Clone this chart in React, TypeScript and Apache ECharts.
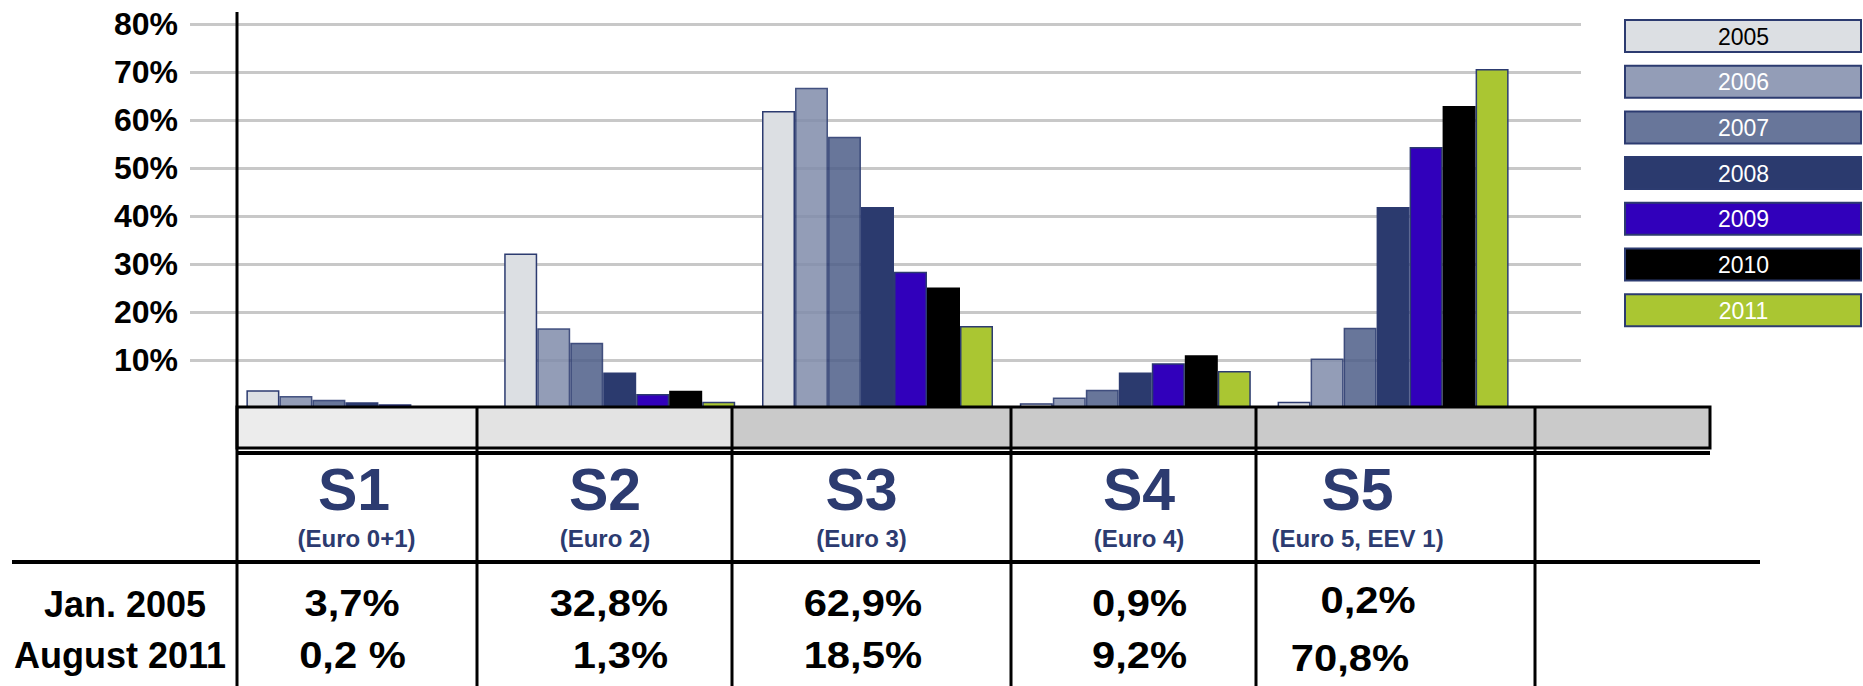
import React, { useEffect, useRef } from 'react';
import * as echarts from 'echarts';

// ---------- data ----------
const categories = ['S1', 'S2', 'S3', 'S4', 'S5'];
const categorySubtitles = ['(Euro 0+1)', '(Euro 2)', '(Euro 3)', '(Euro 4)', '(Euro 5, EEV 1)'];
const years = ['2005', '2006', '2007', '2008', '2009', '2010', '2011'];
const values2005 = [3.7, 32.2, 61.9, 1.0, 1.3];
const values2006 = [2.5, 16.6, 66.7, 2.2, 10.3];
const values2007 = [1.7, 13.6, 56.5, 3.8, 16.7];
const values2008 = [1.2, 7.4, 41.9, 7.4, 41.9];
const values2009 = [0.8, 2.9, 28.4, 9.3, 54.4];
const values2010 = [0.3, 3.6, 25.1, 11.0, 62.9];
const values2011 = [0.2, 1.3, 17.1, 7.7, 70.6];
const seriesValues = [values2005, values2006, values2007, values2008, values2009, values2010, values2011];
const yMin = 0;
const yMax = 80;
const yInterval = 10;
const rowLabels = ['Jan. 2005', 'August 2011'];
const jan2005Shares = ['3,7%', '32,8%', '62,9%', '0,9%', '0,2%'];
const aug2011Shares = ['0,2 %', '1,3%', '18,5%', '9,2%', '70,8%'];

// ---------- styles ----------
const FONT = "'Liberation Sans', Arial, Helvetica, sans-serif";
const NAVY = '#2c3b70';
const legendColors = ['#dcdfe3', '#939db7', '#68769a', '#2b3a6e', '#3100bb', '#000000', '#aac632'];
const barColors = ['#dcdfe3', '#808caa', '#4d5e88', '#2b3a6e', '#3100bb', '#000000', '#aac632'];
const barOpacity = [1, 0.85, 0.85, 1, 1, 1, 1];
const legendTextColors = ['#000000', '#ffffff', '#ffffff', '#ffffff', '#ffffff', '#ffffff', '#ffffff'];

// table layout (pixels)
const colEdges = [237, 477, 732, 1011, 1256, 1535];
const tableRight = 1710;
const headerCenters = [354, 605, 861.5, 1139, 1357.6];
const subCenters = [356.5, 605, 861.5, 1139, 1357.6];
const janPos: [number, string, number][] = [[352, 'center', 604], [668, 'right', 604], [922, 'right', 604], [1139.5, 'center', 604], [1368, 'center', 600.5]];
const augPos: [number, string, number][] = [[352.5, 'center', 656], [668, 'right', 656], [922, 'right', 656], [1139.5, 'center', 656], [1350, 'center', 659]];

function buildGraphic() {
  const g: any[] = [];
  const Z = 100;
  const line = (x1: number, y1: number, x2: number, y2: number, w: number, color = '#000') =>
    g.push({ type: 'line', z: Z, shape: { x1, y1, x2, y2 }, style: { stroke: color, lineWidth: w } });

  // grey header row
  const fills = ['#ececec', '#e3e3e3', '#cacaca'];
  g.push({ type: 'rect', z: Z - 1, shape: { x: colEdges[0], y: 407, width: colEdges[1] - colEdges[0], height: 41 }, style: { fill: fills[0] } });
  g.push({ type: 'rect', z: Z - 1, shape: { x: colEdges[1], y: 407, width: colEdges[2] - colEdges[1], height: 41 }, style: { fill: fills[1] } });
  g.push({ type: 'rect', z: Z - 1, shape: { x: colEdges[2], y: 408, width: tableRight - colEdges[2], height: 40 }, style: { fill: fills[2] } });
  g.push({ type: 'rect', z: Z, shape: { x: colEdges[0], y: 407, width: tableRight - colEdges[0], height: 41 }, style: { fill: 'none', stroke: '#000', lineWidth: 3 } });

  // lines
  line(colEdges[0], 12, colEdges[0], 686, 3);
  for (let i = 1; i < colEdges.length; i++) line(colEdges[i], 407, colEdges[i], 686, 3);
  line(colEdges[0], 453, tableRight, 453, 4);
  line(12, 562, 1760, 562, 4);

  // category headers
  categories.forEach((c, i) => {
    g.push({ type: 'text', z: Z, x: headerCenters[i], y: 489.5, style: { text: c, x: 0, y: 0, align: 'center', verticalAlign: 'middle', fontSize: 59, fontWeight: 'bold', fontFamily: FONT, fill: NAVY } });
    g.push({ type: 'text', z: Z, x: subCenters[i], y: 538.5, style: { text: categorySubtitles[i], x: 0, y: 0, align: 'center', verticalAlign: 'middle', fontSize: 24, fontWeight: 'bold', fontFamily: FONT, fill: NAVY } });
  });

  // row labels
  g.push({ type: 'text', z: Z, x: 125, y: 604, style: { text: rowLabels[0], x: 0, y: 0, align: 'center', verticalAlign: 'middle', fontSize: 36, fontWeight: 'bold', fontFamily: FONT, fill: '#000' } });
  g.push({ type: 'text', z: Z, x: 120, y: 655.5, style: { text: rowLabels[1], x: 0, y: 0, align: 'center', verticalAlign: 'middle', fontSize: 36, fontWeight: 'bold', fontFamily: FONT, fill: '#000' } });

  const pct = (text: string, p: [number, string, number]) =>
    g.push({ type: 'text', z: Z, x: p[0], y: p[2], scaleX: 1.16, style: { text, x: 0, y: 0, align: p[1], verticalAlign: 'middle', fontSize: 36, fontWeight: 'bold', fontFamily: FONT, fill: '#000' } });
  jan2005Shares.forEach((t, i) => pct(t, janPos[i]));
  aug2011Shares.forEach((t, i) => pct(t, augPos[i]));

  // legend boxes
  years.forEach((y, i) => {
    const top = 20 + i * 45.7;
    g.push({ type: 'rect', z: Z, shape: { x: 1625, y: top, width: 236, height: 32 }, style: { fill: legendColors[i], stroke: NAVY, lineWidth: 2 } });
    g.push({ type: 'text', z: Z + 1, x: 1743.5, y: top + 16.5, style: { text: y, x: 0, y: 0, align: 'center', verticalAlign: 'middle', fontSize: 23, fontFamily: FONT, fill: legendTextColors[i] } });
  });
  return g;
}

export default function App() {
  const ref = useRef<HTMLDivElement>(null);
  useEffect(() => {
    if (!ref.current) return;
    const chart = echarts.init(ref.current, null, { renderer: 'svg' });
    const option: any = {
      animation: false,
      backgroundColor: '#ffffff',
      grid: [
        { left: 190, right: 282, top: 24, bottom: 278 },
        { left: 233, right: 341, top: 24, bottom: 278 },
      ],
      xAxis: [
        { gridIndex: 0, type: 'category', data: categories, show: false },
        { gridIndex: 1, type: 'category', data: categories, show: false },
      ],
      yAxis: [
        {
          gridIndex: 0, type: 'value', min: yMin, max: yMax, interval: yInterval,
          axisLine: { show: false }, axisTick: { show: false },
          splitLine: { show: true, showMinLine: false, lineStyle: { color: '#c8c8c8', width: 3 } },
          axisLabel: {
            formatter: (v: number) => (v === 0 ? '' : v + '%'),
            fontSize: 32, fontWeight: 'bold', color: '#000', fontFamily: FONT, margin: 12,
          },
        },
        { gridIndex: 1, type: 'value', min: yMin, max: yMax, interval: yInterval, show: false, splitLine: { show: false } },
      ],
      series: years.map((y, i) => ({
        type: 'bar',
        name: y,
        xAxisIndex: 1,
        yAxisIndex: 1,
        data: seriesValues[i],
        barWidth: 33,
        barGap: '0%',
        itemStyle: { color: barColors[i], opacity: barOpacity[i], borderColor: i === 5 ? '#000' : NAVY, borderWidth: 1.5 },
      })),
      graphic: buildGraphic(),
    };
    chart.setOption(option);
    return () => chart.dispose();
  }, []);
  return <div ref={ref} style={{ position: 'fixed', left: 0, top: 0, width: 1863, height: 686, background: '#fff' }} />;
}
